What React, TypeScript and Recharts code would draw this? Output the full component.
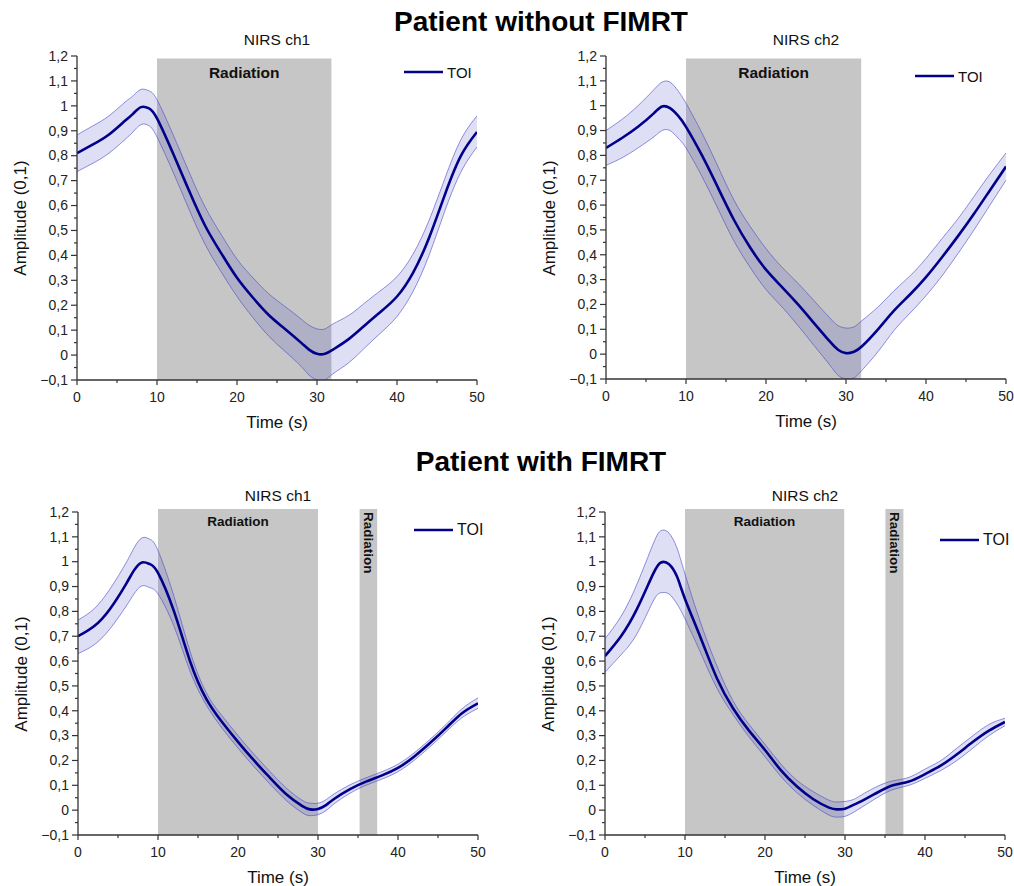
import React from 'react'
import { ComposedChart, Area, Line, XAxis, YAxis, ReferenceArea, Legend } from 'recharts'

const FONT = '"Liberation Sans", Arial, sans-serif'
const AXIS = '#333333'

// time points (s), shared by all four panels
const TIME = [0, 2, 4, 6, 7, 8, 9, 10, 12, 14, 16, 18, 20, 22, 24, 26, 28, 29, 30, 31, 32, 34, 36, 38, 40, 42, 44, 46, 48, 50]

// without FIMRT, ch1
const TL_MEAN = [0.81, 0.845, 0.885, 0.94, 0.968, 0.995, 0.99, 0.95, 0.81, 0.66, 0.52, 0.41, 0.31, 0.23, 0.16, 0.105, 0.05, 0.022, 0.005, 0.005, 0.022, 0.065, 0.12, 0.175, 0.235, 0.33, 0.47, 0.645, 0.8, 0.895]
const TL_LO = [0.736, 0.77, 0.81, 0.865, 0.895, 0.925, 0.92, 0.875, 0.735, 0.585, 0.445, 0.335, 0.235, 0.15, 0.075, 0.015, -0.045, -0.08, -0.1, -0.1, -0.075, -0.03, 0.03, 0.09, 0.155, 0.255, 0.4, 0.58, 0.735, 0.835]
const TL_HI = [0.883, 0.92, 0.96, 1.015, 1.04, 1.066, 1.06, 1.025, 0.885, 0.735, 0.595, 0.485, 0.385, 0.31, 0.245, 0.195, 0.145, 0.12, 0.105, 0.105, 0.125, 0.16, 0.21, 0.26, 0.315, 0.405, 0.54, 0.71, 0.865, 0.96]

// without FIMRT, ch2
const TR_MEAN = [0.83, 0.87, 0.915, 0.97, 0.997, 0.99, 0.96, 0.915, 0.8, 0.67, 0.54, 0.43, 0.34, 0.27, 0.2, 0.125, 0.05, 0.018, 0.004, 0.01, 0.032, 0.1, 0.175, 0.24, 0.31, 0.39, 0.475, 0.565, 0.66, 0.755]
const TR_LO = [0.76, 0.79, 0.83, 0.875, 0.9, 0.9, 0.87, 0.83, 0.715, 0.585, 0.455, 0.35, 0.26, 0.19, 0.115, 0.035, -0.045, -0.085, -0.1, -0.095, -0.065, 0.01, 0.095, 0.165, 0.235, 0.315, 0.405, 0.5, 0.6, 0.7]
const TR_HI = [0.9, 0.945, 1.0, 1.065, 1.095, 1.095, 1.06, 1.01, 0.89, 0.755, 0.62, 0.515, 0.425, 0.35, 0.285, 0.215, 0.145, 0.115, 0.105, 0.11, 0.135, 0.19, 0.255, 0.315, 0.385, 0.465, 0.545, 0.635, 0.725, 0.81]

// with FIMRT, ch1
const BL_MEAN = [0.7, 0.74, 0.81, 0.91, 0.965, 0.997, 0.99, 0.955, 0.8, 0.6, 0.45, 0.355, 0.275, 0.2, 0.13, 0.065, 0.017, 0.003, 0.005, 0.02, 0.045, 0.085, 0.115, 0.14, 0.17, 0.215, 0.27, 0.33, 0.39, 0.43]
const BL_LO = [0.63, 0.665, 0.73, 0.82, 0.87, 0.903, 0.895, 0.87, 0.74, 0.56, 0.425, 0.33, 0.25, 0.175, 0.105, 0.04, -0.01, -0.022, -0.018, -0.002, 0.025, 0.068, 0.1, 0.125, 0.155, 0.2, 0.255, 0.315, 0.372, 0.41]
const BL_HI = [0.765, 0.81, 0.89, 0.995, 1.055, 1.096, 1.09, 1.045, 0.86, 0.64, 0.475, 0.38, 0.3, 0.225, 0.155, 0.09, 0.04, 0.028, 0.028, 0.042, 0.065, 0.102, 0.13, 0.155, 0.185, 0.23, 0.285, 0.345, 0.408, 0.452]

// with FIMRT, ch2
const BR_MEAN = [0.62, 0.7, 0.81, 0.95, 0.997, 0.99, 0.94, 0.85, 0.69, 0.53, 0.41, 0.32, 0.242, 0.16, 0.095, 0.045, 0.01, 0.003, 0.006, 0.02, 0.035, 0.07, 0.1, 0.115, 0.145, 0.18, 0.225, 0.275, 0.32, 0.355]
const BR_LO = [0.555, 0.625, 0.71, 0.84, 0.875, 0.87, 0.83, 0.77, 0.63, 0.49, 0.385, 0.295, 0.215, 0.135, 0.07, 0.02, -0.02, -0.028, -0.025, -0.01, 0.01, 0.05, 0.083, 0.1, 0.128, 0.16, 0.2, 0.25, 0.3, 0.34]
const BR_HI = [0.69, 0.78, 0.91, 1.07, 1.125, 1.115, 1.055, 0.95, 0.75, 0.58, 0.44, 0.345, 0.265, 0.185, 0.12, 0.075, 0.04, 0.033, 0.035, 0.042, 0.06, 0.095, 0.118, 0.132, 0.165, 0.2, 0.25, 0.3, 0.345, 0.37]

// radiation windows [start, end] in s
const SHADE_TL = [[10, 31.8]]
const SHADE_TR = [[10, 31.9]]
const SHADE_BL = [[10, 30], [35.2, 37.4]]
const SHADE_BR = [[10, 29.9], [35.05, 37.3]]

const X_TICKS = [0, 5, 10, 15, 20, 25, 30, 35, 40, 45, 50]
const Y_TICKS = [-0.1, -0.05, 0, 0.05, 0.1, 0.15, 0.2, 0.25, 0.3, 0.35, 0.4, 0.45, 0.5, 0.55, 0.6, 0.65, 0.7, 0.75, 0.8, 0.85, 0.9, 0.95, 1, 1.05, 1.1, 1.15, 1.2]

const build = (mean: number[], lo: number[], hi: number[]) =>
  TIME.map((t, i) => ({ t, mean: mean[i], band: [lo[i], hi[i]] }))

const fmt = (v: number) => {
  const r = Math.round(v * 10) / 10
  if (r === 0) return '0'
  if (Number.isInteger(r)) return String(r)
  return r.toFixed(1).replace('.', ',').replace('-', '\u2212')
}

function YTick(props: any) {
  const { x, y, payload } = props
  const v = payload.value
  const major = Math.round(v * 100) % 10 === 0
  return (
    <g>
      <line x1={x} x2={x - (major ? 6 : 3)} y1={y} y2={y} stroke={AXIS} strokeWidth={1.2} />
      {major && (
        <text x={x - 9} y={y} dy={4.8} textAnchor="end" fontSize={14} fill="#222" fontFamily={FONT}>
          {fmt(v)}
        </text>
      )}
    </g>
  )
}

function XTick(props: any) {
  const { x, y, payload } = props
  const major = payload.value % 10 === 0
  return (
    <g>
      <line x1={x} x2={x} y1={y} y2={y + (major ? 5 : 3)} stroke={AXIS} strokeWidth={1.2} />
      {major && (
        <text x={x} y={y + 17} dy={4.8} textAnchor="middle" fontSize={14} fill="#222" fontFamily={FONT}>
          {payload.value}
        </text>
      )}
    </g>
  )
}

function RadLabel(props: any) {
  const { viewBox, vertical, size, dy } = props
  if (!viewBox) return null
  const cx = viewBox.x + viewBox.width / 2
  const ty = viewBox.y + dy
  if (vertical) {
    return (
      <text x={cx} y={ty} transform={`rotate(90 ${cx} ${ty})`} textAnchor="start" dominantBaseline="central"
        fontSize={size} fontWeight="bold" fill="#111" fontFamily={FONT}>
        Radiation
      </text>
    )
  }
  return (
    <text x={cx} y={ty} textAnchor="middle" dominantBaseline="central" fontSize={size} fontWeight="bold"
      fill="#111" fontFamily={FONT}>
      Radiation
    </text>
  )
}

function makeLegend(fontSize: number) {
  return (props: any) => (
    <div style={{ display: 'flex', alignItems: 'center', fontFamily: FONT, height: 18 }}>
      {(props.payload || []).filter((p: any) => p.type !== 'none').map((p: any) => (
        <React.Fragment key={p.value}>
          <svg width={39} height={6}>
            <line x1={0} x2={39} y1={3} y2={3} stroke={p.color} strokeWidth={2.5} />
          </svg>
          <span style={{ marginLeft: 4, fontSize, color: '#111' }}>{p.value}</span>
        </React.Fragment>
      ))}
    </div>
  )
}

interface PanelProps {
  left: number
  top: number
  plotH: number
  title: string
  data: any[]
  shades: number[][]
  shadeTop: number
  big: boolean
  legend: [number, number]
}

function Panel({ left, top, plotH, title, data, shades, shadeTop, big, legend }: PanelProps) {
  const ML = 70
  const MT = 20
  const text = (cx: number, cy: number, s: number, str: string, extra: any = {}) => (
    <div style={{
      position: 'absolute', left: cx, top: cy, transform: 'translate(-50%,-50%)' + (extra.rot || ''),
      fontSize: s, whiteSpace: 'nowrap', lineHeight: 1, color: '#111', fontFamily: FONT,
    }}>{str}</div>
  )
  return (
    <>
      {text(left + 200, top - 16, 15.5, title)}
      {text(left - 57, top + plotH / 2, 17, 'Amplitude (0,1)', { rot: ' rotate(-90deg)' })}
      {text(left + 200, top + plotH + 42, 17, 'Time (s)')}
      <div style={{ position: 'absolute', left: left - ML, top: top - MT }}>
        <ComposedChart width={400 + ML + 10} height={plotH + MT + 50} data={data}
          margin={{ top: MT, right: 10, bottom: 10, left: 10 }}>
          <XAxis type="number" dataKey="t" domain={[0, 50]} ticks={X_TICKS} interval={0}
            tick={<XTick />} tickLine={false} tickSize={0} tickMargin={0} height={40}
            axisLine={{ stroke: AXIS, strokeWidth: 1.3 }} allowDataOverflow />
          <YAxis type="number" domain={[-0.1, 1.2]} ticks={Y_TICKS} interval={0}
            tick={<YTick />} tickLine={false} tickSize={0} tickMargin={0} width={60}
            axisLine={{ stroke: AXIS, strokeWidth: 1.3 }} allowDataOverflow />
          {shades.map((s, i) => (
            <ReferenceArea key={i} x1={s[0]} x2={s[1]} y1={-0.1} y2={shadeTop} fill="#c6c6c6" fillOpacity={1}
              stroke="none" ifOverflow="visible"
              label={<RadLabel vertical={i > 0} size={big ? 15.5 : 13.5} dy={i > 0 ? 3 : (big ? 14 : 12)} />} />
          ))}
          <Area type="natural" dataKey="band" stroke="#4a4ac4" strokeWidth={0.6} fill="#4646c8" fillOpacity={0.18}
            legendType="none" dot={false} activeDot={false} isAnimationActive={false} />
          <Line type="natural" dataKey="mean" name="TOI" stroke="#00008b" strokeWidth={2.6} dot={false}
            activeDot={false} isAnimationActive={false} />
          <Legend layout="vertical" align="center" verticalAlign="middle" content={makeLegend(big ? 15 : 16)}
            wrapperStyle={{ left: legend[0] + ML, top: legend[1] + MT - 9, width: 'auto', height: 18 }} />
        </ComposedChart>
      </div>
    </>
  )
}

export default function App() {
  const title = (cy: number, str: string) => (
    <div style={{
      position: 'absolute', left: 541, top: cy, transform: 'translate(-50%,-50%)', fontSize: 28,
      fontWeight: 'bold', whiteSpace: 'nowrap', lineHeight: 1, color: '#000', fontFamily: FONT,
    }}>{str}</div>
  )
  return (
    <div style={{ position: 'absolute', left: 0, top: 0, width: 1014, height: 886, background: '#fff', fontFamily: FONT }}>
      {title(22, 'Patient without FIMRT')}
      {title(462, 'Patient with FIMRT')}
      <Panel left={77} top={56} plotH={324} title="NIRS ch1" data={build(TL_MEAN, TL_LO, TL_HI)}
        shades={SHADE_TL} shadeTop={1.19} big legend={[327, 16]} />
      <Panel left={606} top={56} plotH={323} title="NIRS ch2" data={build(TR_MEAN, TR_LO, TR_HI)}
        shades={SHADE_TR} shadeTop={1.19} big legend={[309, 20]} />
      <Panel left={78} top={512} plotH={323} title="NIRS ch1" data={build(BL_MEAN, BL_LO, BL_HI)}
        shades={SHADE_BL} shadeTop={1.212} big={false} legend={[336, 18]} />
      <Panel left={605} top={512} plotH={323} title="NIRS ch2" data={build(BR_MEAN, BR_LO, BR_HI)}
        shades={SHADE_BR} shadeTop={1.212} big={false} legend={[335, 28]} />
    </div>
  )
}
